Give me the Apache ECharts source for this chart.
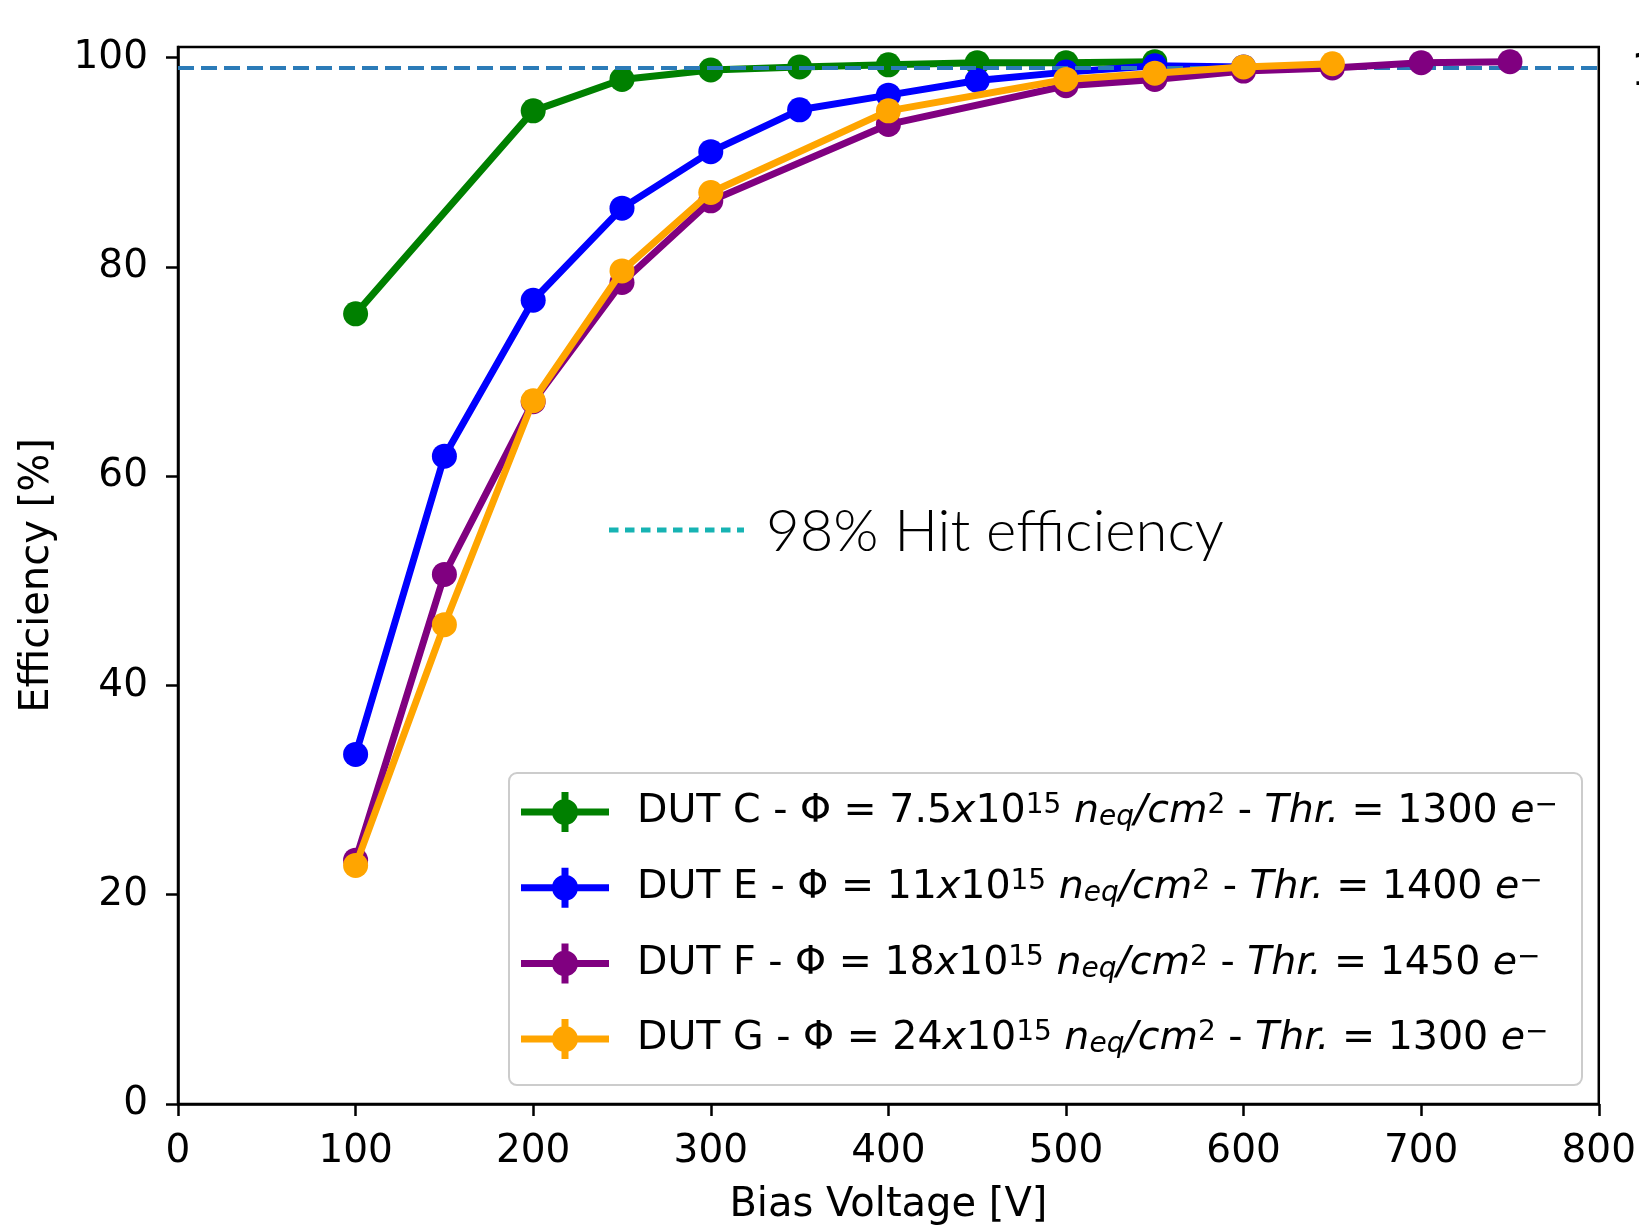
<!DOCTYPE html>
<html>
<head>
<meta charset="utf-8">
<script src="https://cdn.jsdelivr.net/npm/echarts@6/dist/echarts.min.js"></script>
<style>
html,body{margin:0;padding:0;background:#fff;}
#chart{width:1639px;height:1231px;}
</style>
</head>
<body>
<div id="chart"></div>
<script>
// ---- data ----
const xTicks = [0, 100, 200, 300, 400, 500, 600, 700, 800];
const yTicks = [0, 20, 40, 60, 80, 100];

const dutC_V   = [100, 200, 250, 300, 350, 400, 450, 500, 550];
const dutC_eff = [75.5, 94.9, 97.9, 98.8, 99.1, 99.3, 99.5, 99.5, 99.6];

const dutE_V   = [100, 150, 200, 250, 300, 350, 400, 450, 500, 550, 600];
const dutE_eff = [33.4, 61.9, 76.8, 85.6, 91.0, 95.0, 96.4, 97.8, 98.6, 99.2, 99.1];

const dutF_V   = [100, 150, 200, 250, 300, 400, 500, 550, 600, 650, 700, 750];
const dutF_eff = [23.3, 50.6, 67.1, 78.5, 86.3, 93.6, 97.3, 97.9, 98.7, 99.0, 99.5, 99.6];

const dutG_V   = [100, 150, 200, 250, 300, 400, 500, 550, 600, 650];
const dutG_eff = [22.8, 45.8, 67.2, 79.6, 87.1, 94.9, 97.9, 98.5, 99.1, 99.4];

const refLineValue = 99;

const seriesNames = ['DUT C', 'DUT E', 'DUT F', 'DUT G'];
const fluences = ['7.5', '11', '18', '24'];
const thresholds = ['1300', '1400', '1450', '1300'];
const colors = ['#008000', '#0000ff', '#800080', '#ffa500'];

const xs = [dutC_V, dutE_V, dutF_V, dutG_V];
const ys = [dutC_eff, dutE_eff, dutF_eff, dutG_eff];

function zip(a, b) { return a.map((v, i) => [v, b[i]]); }

const FONT = 'DejaVu Sans';

const legendIcon = 'path://M0,16.5H88V23.5H0Z M40.5,0H47.5V40H40.5Z M31,20A13,13 0 1,1 57,20A13,13 0 1,1 31,20Z';

const series = seriesNames.map((name, i) => ({
  name: name,
  type: 'line',
  z: 3 + i,
  data: zip(xs[i], ys[i]),
  symbol: 'circle',
  symbolSize: 25,
  showSymbol: true,
  lineStyle: { color: colors[i], width: 7 },
  itemStyle: { color: colors[i] },
  emphasis: { disabled: true },
  animation: false
}));

// reference dashed line on its own empty series (lowest z)
series.unshift({
  name: 'ref',
  type: 'line',
  z: 2,
  data: [],
  silent: true,
  animation: false,
  markLine: {
    silent: true,
    symbol: ['none', 'none'],
    label: { show: false },
    lineStyle: { color: '#2b7bb8', width: 4, type: [16, 7] },
    data: [{ yAxis: refLineValue }],
    animation: false
  }
});

const rich = {
  t:   { fontFamily: FONT, fontSize: 39.5, color: '#000', lineHeight: 40, verticalAlign: 'middle' },
  i:   { fontFamily: FONT, fontSize: 39.5, color: '#000', fontStyle: 'italic', lineHeight: 40, verticalAlign: 'middle' },
  sup: { fontFamily: FONT, fontSize: 28, color: '#000', lineHeight: 18, verticalAlign: 'top' },
  sub: { fontFamily: FONT, fontSize: 28, color: '#000', fontStyle: 'italic', lineHeight: 22, verticalAlign: 'bottom' }
};

const chart = echarts.init(document.getElementById('chart'), null, { renderer: 'canvas' });

chart.setOption({
  backgroundColor: '#ffffff',
  animation: false,
  grid: {
    left: 178, right: 40, top: 47, bottom: 126,
    show: true, borderColor: '#000', borderWidth: 2.5, backgroundColor: 'transparent'
  },
  xAxis: {
    type: 'value',
    min: xTicks[0], max: xTicks[xTicks.length - 1], interval: 100,
    name: 'Bias Voltage [V]',
    nameLocation: 'middle',
    nameGap: 82,
    nameTextStyle: { fontFamily: FONT, fontSize: 40, color: '#000' },
    axisLine: { show: true, onZero: false, lineStyle: { color: '#000', width: 2.5 } },
    axisTick: { show: true, inside: false, length: 12, lineStyle: { color: '#000', width: 2.5 } },
    axisLabel: { fontFamily: FONT, fontSize: 39, color: '#000', margin: 28 },
    splitLine: { show: false }
  },
  yAxis: {
    type: 'value',
    min: 0, max: 101,
    name: 'Efficiency [%]',
    nameLocation: 'middle',
    nameRotate: 90,
    nameGap: 120,
    nameTextStyle: { fontFamily: FONT, fontSize: 40, color: '#000' },
    axisLine: { show: true, onZero: false, lineStyle: { color: '#000', width: 2.5 } },
    axisTick: { show: true, inside: false, length: 12, customValues: yTicks, lineStyle: { color: '#000', width: 2.5 } },
    axisLabel: { fontFamily: FONT, fontSize: 39, color: '#000', margin: 30, customValues: yTicks, padding: [12, 0, 0, 0] },
    splitLine: { show: false }
  },
  legend: {
    show: true,
    orient: 'vertical',
    left: 509, top: 773,
    padding: [19, 24, 26, 12],
    itemGap: 35.7,
    itemWidth: 88, itemHeight: 40,
    icon: legendIcon,
    data: seriesNames,
    backgroundColor: 'rgba(255,255,255,0.85)',
    borderColor: '#cccccc', borderWidth: 2, borderRadius: 8,
    selectedMode: false,
    textStyle: { fontFamily: FONT, fontSize: 39.5, color: '#000', padding: [0, 0, 0, 23], rich: rich },
    formatter: function (name) {
      const i = seriesNames.indexOf(name);
      return '{t|' + name + ' - Φ = ' + fluences[i] + '}{i|x}{t|10}{sup|15}{t| }{i|n}{sub|eq}{i|/cm}{sup|2}{t| - }{i|Thr.}{t| = ' + thresholds[i] + ' }{i|e}{sup|−}';
    },
    z: 20
  },
  graphic: [
    {
      type: 'line',
      z: 30,
      shape: { x1: 609, y1: 530, x2: 744, y2: 530 },
      style: { stroke: '#17b3b3', lineWidth: 5, lineDash: [9.5, 6.5] }
    },
    {
      type: 'text',
      z: 30,
      x: 766, y: 532,
      style: {
        text: '98% Hit efficiency',
        font: '300 58px Lato',
        fill: '#000',
        verticalAlign: 'middle',
        align: 'left'
      }
    },
    {
      type: 'text',
      z: 30,
      x: 1631, y: 52,
      style: { text: '1', font: '44px "DejaVu Sans"', fill: '#000', verticalAlign: 'top' }
    }
  ],
  series: series
});
</script>
</body>
</html>
